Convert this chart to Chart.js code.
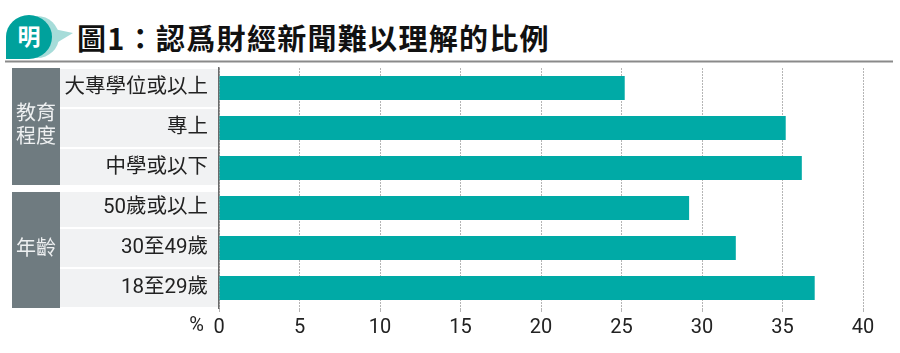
<!DOCTYPE html>
<html>
<head>
<meta charset="utf-8">
<script src="https://cdn.jsdelivr.net/npm/chart.js@4"></script>
<style>
  html, body { margin: 0; padding: 0; background: #fff; }
  #wrap { position: relative; width: 900px; height: 353px; }
  #title { position: absolute; left: 77px; top: 16px; font: bold 29px "Noto Sans CJK TC", sans-serif; color: #111; letter-spacing: 1.3px; white-space: nowrap; line-height: 42px; }
  #logo { position: absolute; left: 0; top: 0; }
  canvas { position: absolute; left: 0; top: 0; }
</style>
</head>
<body>
<div id="wrap">
  <svg id="logo" width="76" height="64" viewBox="0 0 76 64">
    <ellipse cx="37" cy="37" rx="22" ry="21" fill="#a6dcd9"/>
    <path d="M54 29 L73 33 L58 42 Z" fill="#a6dcd9"/>
    <path d="M29 15 A23 22 0 0 1 52 37 A23 22 0 0 1 29 59 L6 59 L6 37 A23 22 0 0 1 29 15 Z" fill="#00a19c"/>
    <text x="29" y="45" text-anchor="middle" font-family="Noto Sans CJK TC" font-weight="bold" font-size="23" fill="#fff">明</text>
  </svg>
  <div id="title">圖1：認爲財經新聞難以理解的比例</div>
  <canvas id="chart" width="900" height="353"></canvas>
</div>
<script>
// data
var categories = ['大專學位或以上', '專上', '中學或以下', '50歲或以上', '30至49歲', '18至29歲'];
var values = [25.2, 35.2, 36.2, 29.2, 32.1, 37.0];
var groupNames = [['教育', '程度'], ['年齡']];
var groupStart = [0, 3];
var groupEnd = [2, 5];
var xMax = 40;
var xStep = 5;

var labelFont = "Roboto, 'Noto Sans CJK TC', sans-serif";

// left panel, title rule and % sign
var panel = {
  id: 'panel',
  beforeDraw: function(chart) {
    var ctx = chart.ctx;
    var y = chart.scales.y;
    var x = chart.scales.x;
    var half = (y.getPixelForValue(1) - y.getPixelForValue(0)) / 2;
    var axisX = chart.chartArea.left;
    ctx.save();
    // rule under the title
    ctx.strokeStyle = '#8a8a8a';
    ctx.lineWidth = 2;
    ctx.beginPath();
    ctx.moveTo(5, 61.5);
    ctx.lineTo(893, 61.5);
    ctx.stroke();

    for (var g = 0; g < groupStart.length; g++) {
      var top = y.getPixelForValue(groupStart[g]) - half;
      var bottom = y.getPixelForValue(groupEnd[g]) + half;
      if (g > 0) top += 4;
      if (g < groupStart.length - 1) bottom -= 3;
      // group box
      ctx.fillStyle = '#6f7b80';
      ctx.fillRect(12, top, 48, bottom - top);
      // row backgrounds
      for (var i = groupStart[g]; i <= groupEnd[g]; i++) {
        var rt = Math.max(top, y.getPixelForValue(i) - half + 1);
        var rb = Math.min(bottom, y.getPixelForValue(i) + half - 1);
        ctx.fillStyle = '#f1f2f3';
        ctx.fillRect(60, rt, axisX - 60, rb - rt);
      }
      // group label
      ctx.fillStyle = '#eef0f1';
      ctx.font = '20px ' + labelFont;
      ctx.textAlign = 'center';
      ctx.textBaseline = 'middle';
      var lines = groupNames[g];
      var mid = (top + bottom) / 2;
      for (var k = 0; k < lines.length; k++) {
        ctx.fillText(lines[k], 36, mid + (k - (lines.length - 1) / 2) * 23);
      }
    }

    // % sign next to the 0 tick
    ctx.fillStyle = '#222';
    ctx.font = '20px ' + labelFont;
    ctx.textAlign = 'right';
    ctx.textBaseline = 'middle';
    ctx.fillText('%', x.getPixelForValue(0) - 15, 326);
    ctx.restore();
  }
};

Chart.defaults.font.family = labelFont;

new Chart('chart', {
  type: 'bar',
  data: {
    labels: categories,
    datasets: [{
      data: values,
      backgroundColor: '#00aaa6',
      borderWidth: 0,
      barPercentage: 0.6,
      categoryPercentage: 1
    }]
  },
  options: {
    indexAxis: 'y',
    responsive: false,
    animation: false,
    layout: { padding: { top: 68, right: 37, bottom: 0, left: 0 } },
    plugins: { legend: { display: false }, tooltip: { enabled: false } },
    scales: {
      x: {
        min: 0,
        max: xMax,
        ticks: { stepSize: xStep, color: '#222', font: { size: 20 }, padding: 4 },
        grid: { color: '#b5b5b5', lineWidth: 1, tickLength: 4, drawTicks: true },
        border: { display: false, dash: [2, 1] },
        afterFit: function(scale) { scale.height = 45; }
      },
      y: {
        ticks: { color: '#222', font: { size: 20.5 }, padding: 3 },
        grid: { display: false },
        border: { display: true, color: '#6a6a6a', width: 1.5 },
        afterFit: function(scale) { scale.width = 219; }
      }
    }
  },
  plugins: [panel]
});
</script>
</body>
</html>
